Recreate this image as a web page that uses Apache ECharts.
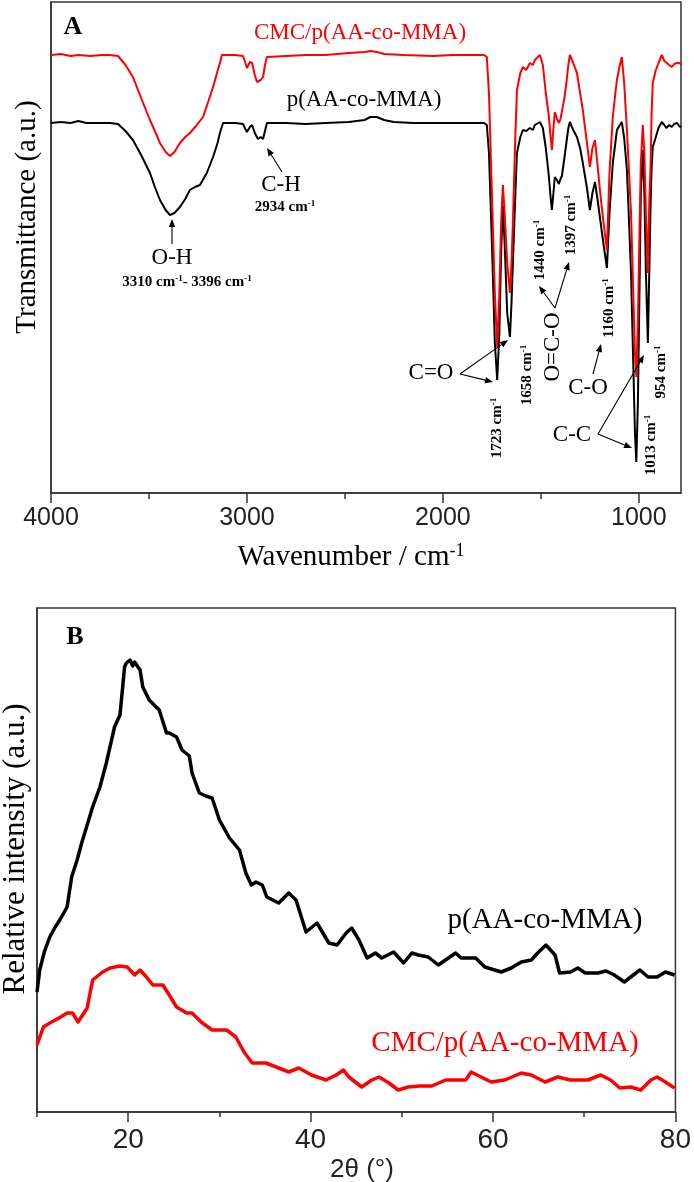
<!DOCTYPE html>
<html>
<head>
<meta charset="utf-8">
<script src="https://cdn.jsdelivr.net/npm/echarts@6/dist/echarts.min.js"></script>
<style>
html,body{margin:0;padding:0;background:#fff;}
#chart{width:694px;height:1182px;}
</style>
</head>
<body>
<div id="chart"></div>
<script>
// ---------- DATA ----------
// FTIR (panel A): [wavenumber cm-1, transmittance a.u.]
var ftirBlack = [[4000,370],[3950,371],[3900,370],[3860,372],[3820,370],[3760,370],[3700,370],[3658,369],[3620,362],[3582,353],[3540,338],[3495,320],[3470,306],[3444,293],[3415,283],[3393,278],[3370,280],[3342,286],[3315,294],[3291,303],[3265,306],[3240,308],[3205,320],[3173,336],[3150,350],[3138,360],[3122,370],[3060,370],[3020,369],[3008,364],[3000,361],[2985,366],[2974,368],[2960,360],[2944,354],[2930,356],[2918,354],[2908,362],[2898,370],[2800,370],[2700,369],[2600,370],[2480,371],[2400,373],[2370,376],[2337,376],[2300,373],[2250,371],[2150,370],[2050,370],[1950,370],[1850,370],[1790,370],[1776,368],[1765,340],[1750,250],[1735,150],[1723,113],[1712,160],[1703,240],[1694,288],[1685,250],[1672,180],[1658,156],[1650,190],[1643,230],[1630,300],[1622,340],[1605,356],[1592,363],[1575,362],[1556,365],[1540,363],[1531,368],[1505,371],[1490,365],[1475,345],[1460,318],[1450,295],[1444,283],[1436,300],[1429,316],[1418,313],[1408,309],[1400,314],[1393,317],[1380,335],[1370,350],[1360,365],[1352,371],[1335,363],[1316,356],[1300,345],[1286,330],[1265,305],[1250,283],[1237,300],[1224,311],[1212,295],[1199,276],[1180,248],[1163,225],[1150,280],[1133,330],[1120,350],[1112,363],[1097,368],[1087,371],[1075,355],[1061,323],[1050,270],[1040,220],[1030,140],[1020,60],[1013,31],[1005,90],[997,200],[990,300],[980,343],[972,300],[964,220],[954,150],[947,220],[940,290],[935,325],[929,346],[915,355],[900,365],[883,371],[870,368],[860,365],[845,368],[832,366],[820,369],[805,370],[791,366],[785,367]];
var ftirRed = [[4000,438],[3950,439],[3900,437],[3860,438],[3800,437],[3740,438],[3700,438],[3658,437],[3620,428],[3582,416],[3540,395],[3495,373],[3470,362],[3444,350],[3415,341],[3393,337],[3370,341],[3342,350],[3315,356],[3291,360],[3260,367],[3224,376],[3200,390],[3173,406],[3150,422],[3138,430],[3128,438],[3060,438],[3020,437],[3008,430],[3000,425],[2985,431],[2974,430],[2960,418],[2949,411],[2930,413],[2918,416],[2908,428],[2898,436],[2800,437],[2700,438],[2600,438],[2480,440],[2400,441],[2370,442],[2337,441],[2300,439],[2200,438],[2050,437],[1950,438],[1850,438],[1790,438],[1776,436],[1765,400],[1750,300],[1735,200],[1723,146],[1712,200],[1703,270],[1694,308],[1685,280],[1672,230],[1658,200],[1650,230],[1643,270],[1630,360],[1622,403],[1605,420],[1592,426],[1575,423],[1556,430],[1540,428],[1531,433],[1505,438],[1490,428],[1475,400],[1460,378],[1450,355],[1444,343],[1436,365],[1429,381],[1418,374],[1408,370],[1400,374],[1393,376],[1380,395],[1370,410],[1360,428],[1352,438],[1335,430],[1316,420],[1300,400],[1286,383],[1265,350],[1250,326],[1237,345],[1224,353],[1212,330],[1199,303],[1180,270],[1163,243],[1150,320],[1133,376],[1120,400],[1112,413],[1097,428],[1087,436],[1075,410],[1061,363],[1050,320],[1040,280],[1030,210],[1020,140],[1013,116],[1005,170],[997,260],[990,330],[980,368],[972,340],[964,280],[954,220],[947,290],[940,330],[935,380],[929,410],[915,422],[900,430],[883,438],[870,432],[860,430],[845,428],[832,426],[820,429],[805,430],[791,430],[785,428]];
var ftirTickLabels = [4000, 3000, 2000, 1000];
var ftirMinorTicks = [3500, 2500, 1500];

// XRD (panel B): [2theta deg, relative intensity a.u.]
var xrdBlack = [[10.0,120],[10.3,142],[10.8,160],[11.4,175],[12.0,185],[12.5,192],[13.3,205],[13.8,235],[14.4,252],[14.9,269],[15.5,287],[16.1,305],[16.9,325],[17.6,349],[18.5,385],[19.1,397],[19.6,445],[19.8,449],[20.2,452],[20.5,446],[20.7,450],[20.9,450],[21.3,442],[21.6,425],[22.3,412],[23.4,402],[24.2,379],[24.5,379],[25.3,375],[25.9,362],[26.7,356],[27.0,339],[27.8,319],[28.5,316],[29.2,314],[30.0,292],[31.1,274],[32.2,262],[32.9,239],[33.5,227],[34.0,230],[34.7,227],[35.2,215],[36.5,209],[37.6,219],[38.4,212],[39.5,180],[40.7,189],[42.0,169],[42.9,167],[43.9,179],[44.5,184],[45.3,172],[46.2,154],[47.1,159],[47.8,154],[49.1,160],[50.2,149],[51.1,159],[51.8,157],[52.9,155],[54.0,147],[55.9,159],[56.5,154],[58.1,154],[59.1,145],[60.9,140],[62.0,144],[63.1,150],[64.2,152],[64.9,159],[65.8,167],[66.8,157],[67.3,139],[68.5,140],[69.3,144],[70.1,139],[71.5,139],[72.4,141],[73.3,137],[74.4,130],[75.1,135],[76.1,142],[77.0,135],[78.0,135],[78.9,140],[79.9,137]];
var xrdRed = [[10.0,67],[10.7,85],[11.4,89],[12.0,92],[12.6,95],[13.3,99],[13.9,99],[14.5,90],[15.5,104],[16.1,132],[17.2,140],[18.0,144],[19.1,146],[19.9,145],[20.7,137],[21.3,142],[22.0,135],[22.7,127],[23.8,127],[24.5,117],[25.3,105],[26.4,99],[27.0,99],[28.0,90],[29.2,82],[30.8,82],[31.8,75],[32.7,60],[33.6,49],[35.1,49],[36.5,44],[37.6,40],[38.7,44],[40.1,37],[41.7,32],[42.8,37],[43.6,42],[44.2,35],[45.6,25],[46.7,32],[47.5,35],[48.6,29],[49.6,22],[50.7,25],[52.0,26],[53.3,26],[54.8,32],[57.0,32],[57.6,40],[58.7,35],[59.8,30],[61.3,32],[63.1,39],[64.2,37],[65.7,30],[67.1,35],[68.5,32],[70.4,32],[71.8,37],[72.9,32],[73.9,24],[75.1,25],[76.2,22],[77.3,32],[78.0,35],[78.9,30],[79.9,24]];
var xrdTickLabels = [20, 40, 60, 80];
var xrdMinorTicks = [10, 30, 50, 70];

var seriesNames = ['p(AA-co-MMA)', 'CMC/p(AA-co-MMA)'];

// ---------- STYLE HELPERS ----------
var SERIF = "'Liberation Serif','Times New Roman',serif";
var SANS = "'Liberation Sans',Arial,sans-serif";

function txt(x, y, text, size, opt) {
  opt = opt || {};
  var weight = opt.bold ? 'bold' : 'normal';
  var fam = opt.family || SERIF;
  var st = {
    text: text,
    fill: opt.color || '#000',
    font: weight + ' ' + size + 'px ' + fam,
    align: 'center',
    verticalAlign: 'middle',
    rich: {
      s: { fontSize: Math.round(size * 0.62), fontWeight: weight, fontFamily: fam, fill: opt.color || '#000', verticalAlign: 'top', lineHeight: size },
      n: { fontSize: size, fontWeight: weight, fontFamily: fam, fill: opt.color || '#000', lineHeight: size }
    }
  };
  return { type: 'text', x: x, y: y, rotation: opt.rot || 0, style: st, z: 100 };
}
function arrow(x1, y1, x2, y2) {
  var a = Math.atan2(y2 - y1, x2 - x1), L = 8, W = 3.2;
  var bx = x2 - L * Math.cos(a), by = y2 - L * Math.sin(a);
  var px = -Math.sin(a) * W, py = Math.cos(a) * W;
  return [
    { type: 'line', shape: { x1: x1, y1: y1, x2: bx, y2: by }, style: { stroke: '#000', lineWidth: 1.1 }, z: 100 },
    { type: 'polygon', shape: { points: [[x2, y2], [bx + px, by + py], [bx - px, by - py]] }, style: { fill: '#000' }, z: 100 }
  ];
}
function plain(v) { return String(v); }

var R90 = Math.PI / 2;
var graphics = [
  txt(73, 27, 'A', 26, { bold: true }),
  txt(360, 33, seriesNames[1], 23, { color: '#ff0000' }),
  txt(364, 100, seriesNames[0], 23),
  txt(281, 185, 'C-H', 23),
  txt(285, 207, '{n|2934 cm}{s|-1}', 15, { bold: true }),
  txt(172, 258, 'O-H', 23),
  txt(187, 282, '{n|3310 cm}{s|-1}{n|- 3396 cm}{s|-1}', 15, { bold: true }),
  txt(431, 373, 'C=O', 23),
  txt(497, 428, '{n|1723 cm}{s|-1}', 15, { bold: true, rot: R90 }),
  txt(527, 375, '{n|1658 cm}{s|-1}', 15, { bold: true, rot: R90 }),
  txt(540, 250, '{n|1440 cm}{s|-1}', 15, { bold: true, rot: R90 }),
  txt(571, 225, '{n|1397 cm}{s|-1}', 15, { bold: true, rot: R90 }),
  txt(553, 347, 'O=C-O', 23, { rot: R90 }),
  txt(609, 308, '{n|1160 cm}{s|-1}', 15, { bold: true, rot: R90 }),
  txt(588, 388, 'C-O', 23),
  txt(661, 372, '{n|954 cm}{s|-1}', 15, { bold: true, rot: R90 }),
  txt(651, 445, '{n|1013 cm}{s|-1}', 15, { bold: true, rot: R90 }),
  txt(572, 435, 'C-C', 23),
  txt(27, 217, 'Transmittance (a.u.)', 29, { rot: R90 }),
  txt(351, 557, '{n|Wavenumber / cm}{s|-1}', 29),
  txt(75, 637, 'B', 26, { bold: true }),
  txt(545, 920, seriesNames[0], 29),
  txt(505, 1043, seriesNames[1], 29, { color: '#ff0000' }),
  txt(16, 849, 'Relative intensity (a.u.)', 31, { rot: R90 }),
  txt(362, 1170, '2\u03b8 (\u00b0)', 26, { family: SANS, color: '#222' })
];
graphics = graphics
  .concat(arrow(282, 172, 267, 148))
  .concat(arrow(172, 244, 172, 219))
  .concat(arrow(460, 374, 493, 382))
  .concat(arrow(460, 374, 508, 340))
  .concat(arrow(555, 308, 539, 286))
  .concat(arrow(555, 308, 569, 262))
  .concat(arrow(593, 374, 601, 344))
  .concat(arrow(598, 434, 632, 448))
  .concat(arrow(598, 434, 644, 355));

var axisLineStyle = { color: '#333', width: 1.5 };

var chart = echarts.init(document.getElementById('chart'), null, { renderer: 'canvas' });
chart.setOption({
  animation: false,
  backgroundColor: '#fff',
  grid: [
    { left: 51, top: 2, width: 630, height: 491, show: true, borderColor: '#333', borderWidth: 1.5, backgroundColor: 'transparent' },
    { left: 37, top: 608, width: 641, height: 504, show: true, borderColor: '#333', borderWidth: 1.5, backgroundColor: 'transparent' }
  ],
  xAxis: [
    { gridIndex: 0, type: 'value', position: 'bottom', inverse: true, min: 785, max: 4000,
      axisLine: { show: true, onZero: false, lineStyle: axisLineStyle },
      axisTick: { show: true, length: 10, customValues: ftirTickLabels, lineStyle: { color: '#333', width: 1.5 } },
      axisLabel: { show: true, customValues: ftirTickLabels, formatter: plain, margin: 13, fontSize: 25, fontFamily: SANS, color: '#222' },
      splitLine: { show: false } },
    { gridIndex: 0, type: 'value', position: 'bottom', inverse: true, min: 785, max: 4000,
      axisLine: { show: false, onZero: false },
      axisTick: { show: true, length: 6, customValues: ftirMinorTicks, lineStyle: { color: '#333', width: 1.5 } },
      axisLabel: { show: false }, splitLine: { show: false } },
    { gridIndex: 1, type: 'value', position: 'bottom', min: 10, max: 80,
      axisLine: { show: true, onZero: false, lineStyle: axisLineStyle },
      axisTick: { show: true, length: 10, customValues: xrdTickLabels, lineStyle: { color: '#333', width: 1.5 } },
      axisLabel: { show: true, customValues: xrdTickLabels, formatter: plain, margin: 14, fontSize: 28, fontFamily: SANS, color: '#222' },
      splitLine: { show: false } },
    { gridIndex: 1, type: 'value', position: 'bottom', min: 10, max: 80,
      axisLine: { show: false, onZero: false },
      axisTick: { show: true, length: 5, customValues: xrdMinorTicks, lineStyle: { color: '#333', width: 1.5 } },
      axisLabel: { show: false }, splitLine: { show: false } }
  ],
  yAxis: [
    { gridIndex: 0, type: 'value', min: 0, max: 491,
      axisLine: { show: true, lineStyle: axisLineStyle }, axisTick: { show: false }, axisLabel: { show: false }, splitLine: { show: false } },
    { gridIndex: 1, type: 'value', min: 0, max: 504,
      axisLine: { show: true, lineStyle: axisLineStyle }, axisTick: { show: false }, axisLabel: { show: false }, splitLine: { show: false } }
  ],
  series: [
    { name: seriesNames[1] + ' FTIR', type: 'line', xAxisIndex: 0, yAxisIndex: 0, data: ftirRed, showSymbol: false, symbol: 'none',
      lineStyle: { color: '#ff0000', width: 2 }, z: 3 },
    { name: seriesNames[0] + ' FTIR', type: 'line', xAxisIndex: 0, yAxisIndex: 0, data: ftirBlack, showSymbol: false, symbol: 'none',
      lineStyle: { color: '#000', width: 2 }, z: 2 },
    { name: seriesNames[0] + ' XRD', type: 'line', xAxisIndex: 2, yAxisIndex: 1, data: xrdBlack, showSymbol: false, symbol: 'none',
      lineStyle: { color: '#000', width: 3.5, join: 'round' }, z: 2 },
    { name: seriesNames[1] + ' XRD', type: 'line', xAxisIndex: 2, yAxisIndex: 1, data: xrdRed, showSymbol: false, symbol: 'none',
      lineStyle: { color: '#ff0000', width: 3.5, join: 'round' }, z: 3 }
  ],
  graphic: graphics
});
</script>
</body>
</html>
